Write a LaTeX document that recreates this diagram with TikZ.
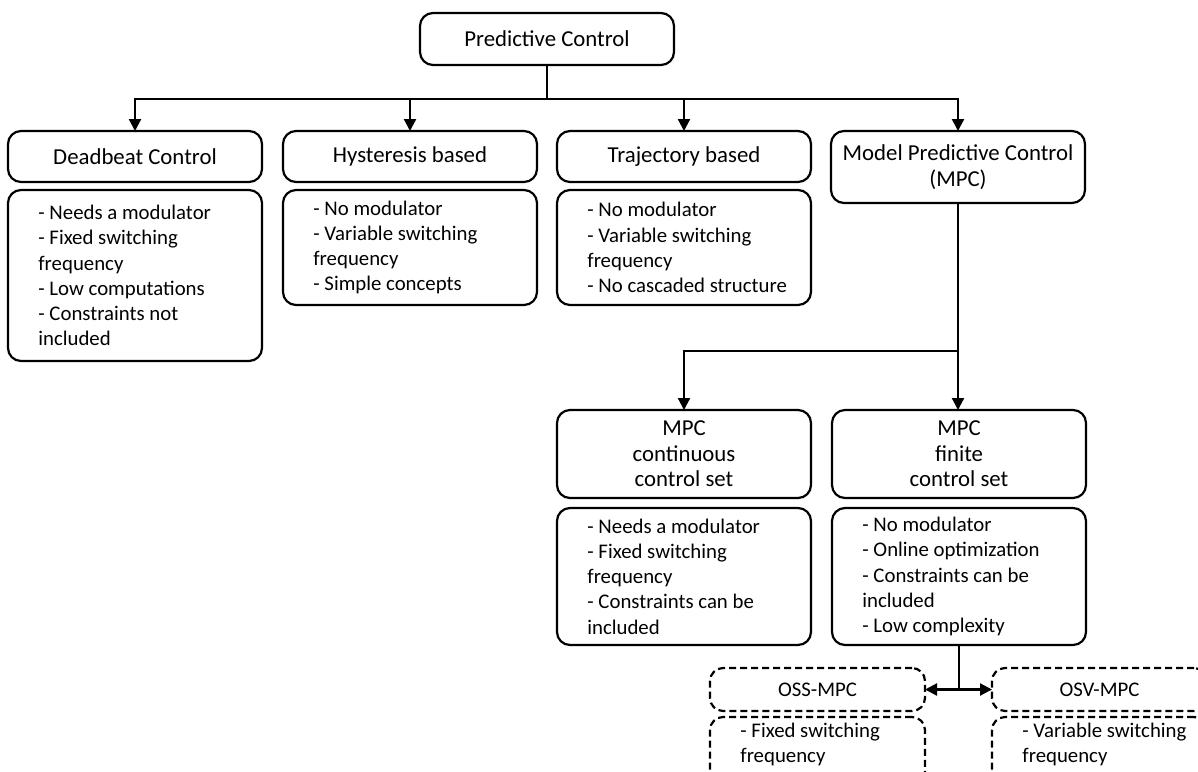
\documentclass[tikz,border=0pt]{standalone}
\usepackage{fontspec}
\setmainfont{Carlito}
\usetikzlibrary{arrows.meta}
\begin{document}
\begin{tikzpicture}[x=0.5pt,y=-0.5pt,
  box/.style={draw, line width=1.1pt, rounded corners=6.5pt, inner sep=0pt, outer sep=0pt, anchor=north west,
    minimum width=127pt, align=center, font=\fontsize{11.4}{12.8}\selectfont},
  dbox/.style={box, dash pattern=on 3.5pt off 2pt, minimum width=107.5pt, font=\fontsize{10.4}{12.6}\selectfont},
  desc/.style={anchor=west, align=left, inner sep=0pt, font=\fontsize{10.4}{12.6}\selectfont},
  conn/.style={line width=1.1pt},
  arr/.style={conn, -{Triangle[length=6pt,width=6pt]}},
]
\useasboundingbox (0,0) rectangle (1198,771);
\clip (0,0) rectangle (1198,771);

\node[box, minimum height=26pt] (pc) at (420,13) {Predictive Control};
\node[box, minimum height=25.5pt] (db) at (8,131) {Deadbeat Control};
\node[box, minimum height=25.5pt] (hy) at (283,131) {Hysteresis based};
\node[box, minimum height=25.5pt] (tr) at (557,131) {Trajectory based};
\node[box, minimum height=36pt] (mpc) at (831,131) {Model Predictive Control\\(MPC)};

\node[box, minimum height=85.5pt] (dbd) at (8,190) {};
\node[desc] (dbt) at ([xshift=15pt]dbd.west) {- Needs a modulator\\- Fixed switching\\frequency\\- Low computations\\- Constraints not\\included};
\node[box, minimum height=57.5pt] (hyd) at (283,190) {};
\node[desc] (hyt) at ([xshift=15pt]hyd.west) {- No modulator\\- Variable switching\\frequency\\- Simple concepts};
\node[box, minimum height=57.5pt] (trd) at (557,190) {};
\node[desc] (trt) at ([xshift=15pt]trd.west) {- No modulator\\- Variable switching\\frequency\\- No cascaded structure};

\node[box, minimum height=44pt] (cc) at (557,410) {MPC\\continuous\\control set};
\node[box, minimum height=44pt] (fc) at (832,410) {MPC\\finite\\control set};
\node[box, minimum height=68.5pt] (ccd) at (557,508) {};
\node[desc] (cct) at ([xshift=15pt]ccd.west) {- Needs a modulator\\- Fixed switching\\frequency\\- Constraints can be\\included};
\node[box, minimum height=68.5pt] (fcd) at (832,508) {};
\node[desc] (fct) at ([xshift=15pt]fcd.west) {- No modulator\\- Online optimization\\- Constraints can be\\included\\- Low complexity};

\node[dbox, minimum height=21.5pt] (oss) at (710,668) {OSS-MPC};
\node[dbox, minimum height=21.5pt] (osv) at (992,668) {OSV-MPC};
\node[dbox, minimum height=50pt] (ossd) at (710,717) {};
\node[dbox, minimum height=50pt] (osvd) at (992,717) {};
\node[desc, anchor=north west] (osst) at ([xshift=15pt,yshift=-2.75pt]ossd.north west) {- Fixed switching\\frequency};
\node[desc, anchor=north west] (osvt) at ([xshift=15pt,yshift=-2.75pt]osvd.north west) {- Variable switching\\frequency};

\coordinate (j1) at (547,99);
\draw[conn] (pc.south) -- (pc.south |- j1);
\draw[arr] (j1) -| (db.north);
\draw[arr] (j1) -| (hy.north);
\draw[arr] (j1) -| (tr.north);
\draw[arr] (j1) -| (mpc.north);

\draw[arr] (mpc.south) -- (mpc.south |- fc.north);
\coordinate (j2) at (958,351);
\draw[arr] (j2) -| (cc.north);

\coordinate (j3) at (fcd.south |- oss.east);
\draw[conn] (fcd.south) -- (j3);
\draw[arr] (j3) -- (oss.east);
\draw[arr] (j3) -- (osv.west);
\end{tikzpicture}
\end{document}
